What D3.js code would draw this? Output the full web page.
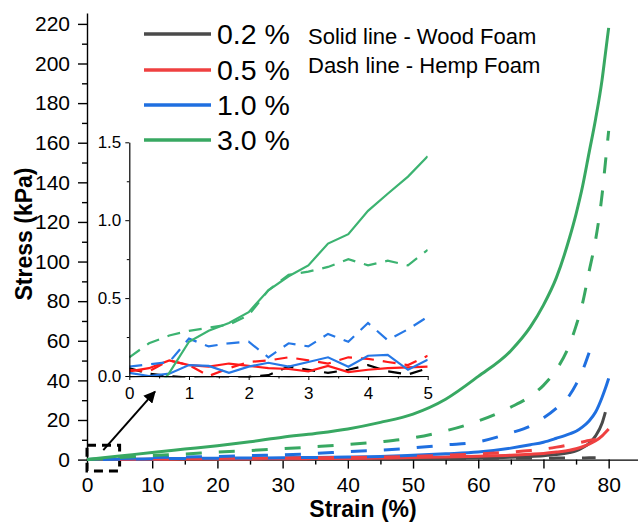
<!DOCTYPE html>
<html>
<head>
<meta charset="utf-8">
<script src="https://cdn.jsdelivr.net/npm/d3@7"></script>
<style>
  body { margin: 0; background: #fff; }
  text { font-family: Arial, "Liberation Sans", sans-serif; fill: #000; }
</style>
</head>
<body>
<svg id="chart" width="638" height="523"></svg>
<script>
// main chart data: strain (%) vs stress (kPa)
const mainStrain = [0, 5, 10, 15, 20, 25, 30, 35, 40, 45, 50, 55, 60, 65, 68, 70, 72, 74, 75, 76, 77, 78, 79, 79.5, 80];
const wood02 = [0, 0.05, 0.1, 0.12, 0.15, 0.18, 0.2, 0.25, 0.3, 0.38, 0.45, 0.6, 0.8, 1.2, 1.6, 2.0, 2.6, 3.6, 4.4, 6.0, 8.2, 12, 18.5, 24, null];
const hemp02 = [0, 0.1, 0.2, 0.25, 0.3, 0.3, 0.3, 0.35, 0.4, 0.45, 0.5, 0.55, 0.6, 0.65, 0.7, 0.7, 0.75, 0.8, 0.8, 0.85, 0.9, 0.9, null, null, null];
const wood05 = [0, 0.1, 0.2, 0.25, 0.3, 0.35, 0.4, 0.5, 0.6, 0.8, 1.0, 1.3, 1.7, 2.2, 2.7, 3.1, 3.8, 4.7, 5.5, 6.5, 7.8, 9.5, 12, 13.7, 15.5];
const hemp05 = [0, 0.2, 0.4, 0.5, 0.6, 0.7, 0.8, 0.95, 1.1, 1.3, 1.6, 2.2, 2.9, 3.8, 4.6, 5.3, 6.3, 7.5, 8.2, 8.9, 9.6, 10.1, null, null, null];
const wood10 = [0, 0.2, 0.4, 0.55, 0.7, 0.8, 0.9, 1.1, 1.3, 1.6, 2.2, 2.9, 3.8, 5.8, 7.5, 8.8, 10.8, 13, 14.3, 16.5, 19.5, 24, 31.5, 36, 41];
const hemp10 = [0, 0.5, 1.0, 1.3, 1.5, 2.0, 2.4, 3.1, 4.0, 4.8, 5.9, 7.4, 9.0, 13.5, 17, 21, 26, 32.5, 38, 45, 54, null, null, null, null];
const wood30 = [0, 1.8, 3.6, 5.3, 7, 9, 11.3, 13.2, 15.5, 18.8, 23, 30.5, 42, 55, 67, 78, 92, 112, 124, 138, 155, 172, 192, 205, 218];
const hemp30 = [0, 1.0, 2.0, 2.8, 3.8, 4.6, 5.5, 6.5, 7.6, 9, 11, 14.5, 19.5, 26.5, 32, 37.5, 45.5, 58, 67.5, 79, 95, 111, 134, 150, 166];

// inset data: first 5 % of strain
const insetStrain = [0, 0.33, 0.67, 1.0, 1.33, 1.67, 2.0, 2.33, 2.67, 3.0, 3.33, 3.67, 4.0, 4.33, 4.67, 5.0];
const inWood02 = [-0.015, -0.02, -0.015, -0.02, -0.015, -0.02, -0.015, -0.02, -0.015, -0.02, -0.015, -0.02, -0.015, -0.02, -0.015, -0.02];
const inHemp02 = [0.05, 0.015, 0.0, -0.01, -0.02, -0.01, -0.005, 0.005, 0.06, 0.04, 0.02, 0.04, 0.07, 0.03, 0.01, 0.05];
const inWood05 = [0.03, 0.05, 0.1, 0.07, 0.06, 0.08, 0.065, 0.05, 0.045, 0.03, 0.065, 0.025, 0.04, 0.05, 0.055, 0.06];
const inHemp05 = [0.04, 0.03, 0.1, 0.07, 0.0, 0.05, 0.09, 0.1, 0.12, 0.1, 0.08, 0.12, 0.11, 0.09, 0.07, 0.13];
const inWood10 = [0.02, 0.0, 0.015, 0.07, 0.065, 0.02, 0.06, 0.085, 0.06, 0.09, 0.12, 0.06, 0.13, 0.135, 0.04, 0.105];
const inHemp10 = [0.06, 0.075, 0.09, 0.24, 0.19, 0.21, 0.22, 0.12, 0.21, 0.19, 0.27, 0.22, 0.34, 0.23, 0.30, 0.38];
const inWood30 = [null, -0.15, 0.02, 0.22, 0.29, 0.34, 0.41, 0.55, 0.64, 0.71, 0.85, 0.91, 1.06, 1.17, 1.28, 1.41];
const inHemp30 = [0.12, 0.21, 0.26, 0.29, 0.31, 0.33, 0.39, 0.55, 0.65, 0.67, 0.70, 0.75, 0.71, 0.74, 0.71, 0.81];

const legendLabels = ["0.2 %", "0.5 %", "1.0 %", "3.0 %"];
const noteLines = ["Solid line - Wood Foam", "Dash line - Hemp Foam"];

const mainColors = ["#4a4a4a", "#ef4040", "#1f6fe0", "#38a862"];
const insetColors = ["#000000", "#ff1a1a", "#2678e6", "#3cb371"];

const svg = d3.select("#chart");

// ---------- main axes ----------
const x = d3.scaleLinear().domain([0, 84.5]).range([87, 638]);
const y = d3.scaleLinear().domain([0, 225.5]).range([459.6, 13]);

const xMinor = svg.append("g")
    .attr("transform", `translate(0,${y(0)})`)
    .call(d3.axisBottom(x).tickValues(d3.range(5, 80, 10)).tickSize(5).tickFormat(""));
const xAxis = svg.append("g")
    .attr("transform", `translate(0,${y(0)})`)
    .call(d3.axisBottom(x).tickValues(d3.range(0, 81, 10)).tickSize(9).tickSizeOuter(0).tickPadding(8));

const yMinor = svg.append("g")
    .attr("transform", `translate(${x(0)},0)`)
    .call(d3.axisLeft(y).tickValues(d3.range(10, 225, 20)).tickSize(5).tickFormat(""));
const yAxis = svg.append("g")
    .attr("transform", `translate(${x(0)},0)`)
    .call(d3.axisLeft(y).tickValues(d3.range(0, 221, 20)).tickSize(9).tickSizeOuter(0).tickPadding(8));

[xMinor, yMinor].forEach(g => g.select(".domain").remove());
[xAxis, yAxis, xMinor, yMinor].forEach(g => {
  g.selectAll("line").attr("stroke", "#000").attr("stroke-width", 1.4);
  g.select(".domain").attr("stroke", "#000").attr("stroke-width", 1.4);
  g.selectAll("text").style("font-size", "21px").attr("fill", "#000");
});

svg.append("text")
    .attr("x", 363)
    .attr("y", 517)
    .attr("text-anchor", "middle")
    .style("font-size", "23px")
    .style("font-weight", "bold")
    .text("Strain (%)");

svg.append("text")
    .attr("transform", "translate(32,234) rotate(-90)")
    .attr("text-anchor", "middle")
    .style("font-size", "23px")
    .style("font-weight", "bold")
    .text("Stress (kPa)");

// zoom box around the first 5 %
svg.append("rect")
    .attr("x", x(0))
    .attr("y", y(7.3))
    .attr("width", x(5) - x(0))
    .attr("height", y(-5.7) - y(7.3))
    .attr("fill", "none")
    .attr("stroke", "#000")
    .attr("stroke-width", 3)
    .attr("stroke-dasharray", "9,6");

// ---------- main curves ----------
const mainSeries = [
  { vals: wood02, c: 0, dash: false }, { vals: hemp02, c: 0, dash: true },
  { vals: wood05, c: 1, dash: false }, { vals: wood10, c: 2, dash: false },
  { vals: hemp05, c: 1, dash: true }, { vals: hemp10, c: 2, dash: true },
  { vals: hemp30, c: 3, dash: true }, { vals: wood30, c: 3, dash: false }
];

const mainLine = d3.line()
    .defined(d => d[1] !== null)
    .x(d => x(d[0]))
    .y(d => y(d[1]))
    .curve(d3.curveMonotoneX);

mainSeries.forEach(s => {
  svg.append("path")
      .datum(mainStrain.map((v, i) => [v, s.vals[i]]))
      .attr("d", mainLine)
      .attr("fill", "none")
      .attr("stroke", mainColors[s.c])
      .attr("stroke-width", 3)
      .attr("stroke-dasharray", s.dash ? "16,17" : null);
});

// ---------- inset ----------
const ix = d3.scaleLinear().domain([0, 5]).range([129.3, 427.7]);
const iy = d3.scaleLinear().domain([0, 1.5]).range([376, 142.3]);

svg.append("clipPath").attr("id", "insetClip")
  .append("rect")
    .attr("x", ix(0))
    .attr("y", iy(1.5))
    .attr("width", ix(5) - ix(0))
    .attr("height", iy(0) - iy(1.5) + 1.5);

const insetSeries = [
  { vals: inWood02, c: 0, dash: false }, { vals: inHemp02, c: 0, dash: true },
  { vals: inWood05, c: 1, dash: false }, { vals: inHemp05, c: 1, dash: true },
  { vals: inWood10, c: 2, dash: false }, { vals: inHemp10, c: 2, dash: true },
  { vals: inHemp30, c: 3, dash: true }, { vals: inWood30, c: 3, dash: false }
];

const insetLine = d3.line()
    .defined(d => d[1] !== null)
    .x(d => ix(d[0]))
    .y(d => iy(d[1]));

const gInset = svg.append("g").attr("clip-path", "url(#insetClip)");
insetSeries.forEach(s => {
  gInset.append("path")
      .datum(insetStrain.map((v, i) => [v, s.vals[i]]))
      .attr("d", insetLine)
      .attr("fill", "none")
      .attr("stroke", insetColors[s.c])
      .attr("stroke-width", 2.2)
      .attr("stroke-dasharray", s.dash ? "13,9" : null);
});

const ixMinor = svg.append("g")
    .attr("transform", `translate(0,${iy(0)})`)
    .call(d3.axisBottom(ix).tickValues(d3.range(0.5, 5, 1)).tickSize(2.5).tickFormat(""));
const ixAxis = svg.append("g")
    .attr("transform", `translate(0,${iy(0)})`)
    .call(d3.axisBottom(ix).tickValues(d3.range(0, 6, 1)).tickFormat(d3.format("d")).tickSize(4).tickSizeOuter(0).tickPadding(7));
const iyMinor = svg.append("g")
    .attr("transform", `translate(${ix(0)},0)`)
    .call(d3.axisLeft(iy).tickValues([0.25, 0.75, 1.25]).tickSize(2.5).tickFormat(""));
const iyAxis = svg.append("g")
    .attr("transform", `translate(${ix(0)},0)`)
    .call(d3.axisLeft(iy).tickValues([0, 0.5, 1.0, 1.5]).tickFormat(d3.format(".1f")).tickSize(4).tickSizeOuter(0).tickPadding(4));

[ixMinor, iyMinor].forEach(g => g.select(".domain").remove());
[ixAxis, iyAxis, ixMinor, iyMinor].forEach(g => {
  g.selectAll("line").attr("stroke", "#000").attr("stroke-width", 1);
  g.select(".domain").attr("stroke", "#000").attr("stroke-width", 1.2);
  g.selectAll("text").style("font-size", "17px").attr("fill", "#000");
});

// arrow from the zoom box to the inset
svg.append("defs").append("marker")
    .attr("id", "arrowHead")
    .attr("viewBox", "0 0 10 10")
    .attr("refX", 9)
    .attr("refY", 5)
    .attr("markerWidth", 6)
    .attr("markerHeight", 6)
    .attr("markerUnits", "strokeWidth")
    .attr("orient", "auto")
  .append("path")
    .attr("d", "M0,0 L10,5 L0,10 Z")
    .attr("fill", "#000");

svg.append("line")
    .attr("x1", x(2.5))
    .attr("y1", y(4.8))
    .attr("x2", ix(0.43))
    .attr("y2", iy(-0.1))
    .attr("stroke", "#000")
    .attr("stroke-width", 2)
    .attr("marker-end", "url(#arrowHead)");

// ---------- legend ----------
const legendY = [34, 70, 105, 140];
legendLabels.forEach((lab, i) => {
  svg.append("line")
      .attr("x1", 144).attr("x2", 211)
      .attr("y1", legendY[i]).attr("y2", legendY[i])
      .attr("stroke", mainColors[i])
      .attr("stroke-width", 3.5);
  svg.append("text")
      .attr("x", 217)
      .attr("y", legendY[i] + 10)
      .style("font-size", "28.5px")
      .text(lab);
});

noteLines.forEach((t, i) => {
  svg.append("text")
      .attr("x", 308)
      .attr("y", 44 + i * 29)
      .style("font-size", "22px")
      .text(t);
});
</script>
</body>
</html>
